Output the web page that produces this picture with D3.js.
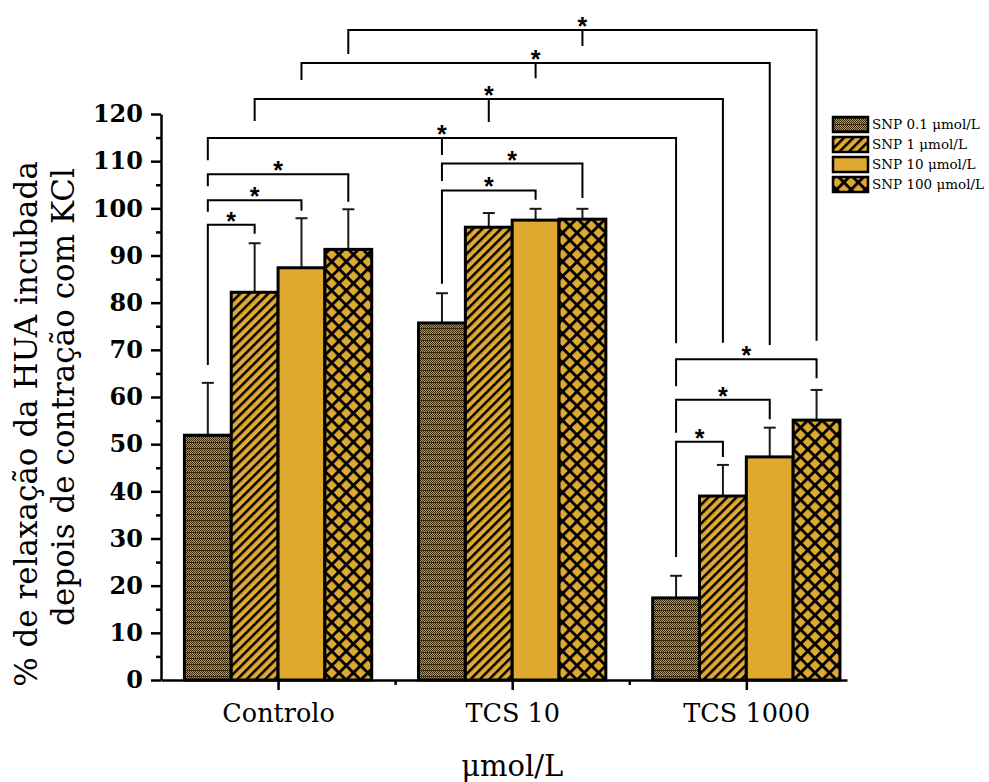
<!DOCTYPE html>
<html>
<head>
<meta charset="utf-8">
<script src="https://cdn.jsdelivr.net/npm/d3@7"></script>
<style>
  body { margin: 0; background: #fff; }
  svg { display: block; }
</style>
</head>
<body>
<svg id="chart" width="989" height="782"></svg>
<script>
// ---- data ----
const categories = ["Controlo", "TCS 10", "TCS 1000"];
const seriesNames = ["SNP 0.1 \u03bcmol/L", "SNP 1 \u03bcmol/L", "SNP 10 \u03bcmol/L", "SNP 100 \u03bcmol/L"];
// mean relaxation (%) per category, one entry per SNP concentration
const meanValues = [
  [51.9, 82.2, 87.4, 91.3],
  [75.7, 96.0, 97.5, 97.7],
  [17.4, 39.0, 47.3, 55.1]
];
// standard deviation (upper whisker only)
const sdValues = [
  [11.1, 10.4, 10.5, 8.5],
  [6.3, 3.0, 2.4, 2.2],
  [4.7, 6.6, 6.2, 6.4]
];
const yTicks = [0, 10, 20, 30, 40, 50, 60, 70, 80, 90, 100, 110, 120];
const yLabel = ["% de relaxação da HUA incubada", "depois de contração com KCl"];
const xLabel = "\u03bcmol/L";

// significance brackets: each point is [category, series, value where its leg stops]
const brackets = [
  { level: 96.5,  pts: [[0, 0, 66.8], [0, 1, 94.6]] },
  { level: 101.7, pts: [[0, 0, 99.3], [0, 2, 99.5]] },
  { level: 107.2, pts: [[0, 0, 104.7], [0, 3, 101.4]] },
  { level: 103.8, pts: [[1, 0, 84.0], [1, 2, 101.8]] },
  { level: 109.5, pts: [[1, 0, 105.8], [1, 3, 102.2]] },
  { level: 50.5,  pts: [[2, 0, 26.1], [2, 1, 47.3]] },
  { level: 59.4,  pts: [[2, 0, 52.4], [2, 2, 55.3]] },
  { level: 68.0,  pts: [[2, 0, 62.3], [2, 3, 64.0]] },
  { level: 114.9, pts: [[0, 0, 110.2], [1, 0, 111.3], [2, 0, 71.4]] },
  { level: 123.2, pts: [[0, 1, 118.5], [1, 1, 118.3], [2, 1, 71.5]] },
  { level: 130.8, pts: [[0, 2, 127.2], [1, 2, 127.6], [2, 2, 71.0]] },
  { level: 137.8, pts: [[0, 3, 132.7], [1, 3, 134.4], [2, 3, 71.9]] }
];

// ---- layout ----
const GOLD = "#DFA82F";
const INK = "#000";
const serif = "'DejaVu Serif', 'Liberation Serif', serif";

const svg = d3.select("#chart");
const x = d3.scaleLinear().domain([0.5, 3.43]).range([161, 847]);
const y = d3.scaleLinear().domain([0, 120]).range([680, 114]);
const barUnits = 0.2;
const barW = x(1 + barUnits) - x(1);
const barCenter = (g, s) => x(g + 1 + (s - 1.5) * barUnits);

// ---- fill patterns ----
const defs = svg.append("defs");

// fine brown/gold checker with faint horizontal banding
const pDots = defs.append("pattern").attr("id", "pat0")
  .attr("patternUnits", "userSpaceOnUse").attr("width", 4).attr("height", 6)
  .attr("shape-rendering", "crispEdges");
pDots.append("rect").attr("width", 4).attr("height", 6).attr("fill", "#C9952A");
const darkCells = [[0,0],[2,0],[1,1],[3,1],[0,2],[2,2],[1,3],[3,3],[0,4],[1,4],[2,4],[3,4],[1,5],[3,5]];
darkCells.forEach(([cx, cy]) => pDots.append("rect")
  .attr("x", cx).attr("y", cy).attr("width", 1).attr("height", 1).attr("fill", "#3a2806"));

// single diagonal hatch
const pHatch = defs.append("pattern").attr("id", "pat1")
  .attr("patternUnits", "userSpaceOnUse").attr("width", 6.6).attr("height", 10)
  .attr("patternTransform", "rotate(45)");
pHatch.append("rect").attr("width", 6.6).attr("height", 10).attr("fill", GOLD);
pHatch.append("rect").attr("width", 2.5).attr("height", 10).attr("fill", INK);

// solid
defs.append("pattern").attr("id", "pat2")
  .attr("patternUnits", "userSpaceOnUse").attr("width", 10).attr("height", 10)
  .append("rect").attr("width", 10).attr("height", 10).attr("fill", GOLD);

// cross hatch
const pCross = defs.append("pattern").attr("id", "pat3")
  .attr("patternUnits", "userSpaceOnUse").attr("width", 10.2).attr("height", 10.2)
  .attr("patternTransform", "rotate(45)");
pCross.append("rect").attr("width", 10.2).attr("height", 10.2).attr("fill", GOLD);
pCross.append("rect").attr("width", 2.9).attr("height", 10.2).attr("fill", INK);
pCross.append("rect").attr("width", 10.2).attr("height", 2.9).attr("fill", INK);

const fillFor = s => `url(#pat${s})`;

// ---- bars ----
const barData = [];
meanValues.forEach((row, g) => row.forEach((v, s) =>
  barData.push({ g, s, v, sd: sdValues[g][s] })));

// error whiskers (upper only)
const err = svg.append("g").attr("stroke", "#1a1a1a").attr("stroke-width", 2);
barData.forEach(d => {
  const cx = barCenter(d.g, d.s);
  err.append("line").attr("x1", cx).attr("x2", cx)
    .attr("y1", y(d.v)).attr("y2", y(d.v + d.sd));
  err.append("line").attr("x1", cx - 6).attr("x2", cx + 6)
    .attr("y1", y(d.v + d.sd)).attr("y2", y(d.v + d.sd));
});

svg.append("g").selectAll("rect").data(barData).join("rect")
  .attr("x", d => barCenter(d.g, d.s) - barW / 2)
  .attr("y", d => y(d.v))
  .attr("width", barW)
  .attr("height", d => y(0) - y(d.v))
  .attr("fill", d => fillFor(d.s))
  .attr("stroke", INK)
  .attr("stroke-width", 3);

// ---- axes ----
const yAxis = svg.append("g").attr("transform", `translate(${x(0.5)},0)`)
  .call(d3.axisLeft(y).tickValues(yTicks).tickSize(10).tickSizeOuter(0).tickPadding(8)
    .tickFormat(d3.format("d")));
yAxis.select(".domain").attr("stroke-width", 2.5);
yAxis.selectAll(".tick line").attr("stroke-width", 2.5);
yAxis.selectAll(".tick text")
  .attr("font-family", serif).attr("font-weight", "bold").attr("font-size", 24).attr("fill", INK);

const yMinor = svg.append("g").attr("transform", `translate(${x(0.5)},0)`)
  .call(d3.axisLeft(y).tickValues(d3.range(5, 120, 10)).tickSize(5).tickSizeOuter(0).tickFormat(""));
yMinor.select(".domain").remove();
yMinor.selectAll(".tick line").attr("stroke-width", 2.5);

const xAxis = svg.append("g").attr("transform", `translate(0,${y(0)})`)
  .call(d3.axisBottom(x).tickValues([1, 2, 3]).tickSize(10).tickSizeOuter(0).tickPadding(14)
    .tickFormat(d => categories[d - 1]));
xAxis.select(".domain").attr("stroke-width", 2.5);
xAxis.selectAll(".tick line").attr("stroke-width", 2.5);
xAxis.selectAll(".tick text")
  .attr("font-family", serif).attr("font-size", 25.5).attr("fill", INK);

const xMinor = svg.append("g").attr("transform", `translate(0,${y(0)})`)
  .call(d3.axisBottom(x).tickValues([1.5, 2.5]).tickSize(5).tickSizeOuter(0).tickFormat(""));
xMinor.select(".domain").remove();
xMinor.selectAll(".tick line").attr("stroke-width", 2.5);

// axis titles
svg.append("text").attr("x", x(2)).attr("y", 776)
  .attr("text-anchor", "middle").attr("font-family", serif).attr("font-size", 29)
  .text(xLabel);

const yMid = (y(0) + y(120)) / 2;
[[37, yMid + 27], [74, yMid]].forEach(([bx, cy], i) => {
  svg.append("text")
    .attr("transform", `translate(${bx},${cy}) rotate(-90)`)
    .attr("text-anchor", "middle").attr("font-family", serif).attr("font-size", 31)
    .text(yLabel[i]);
});

// ---- significance brackets ----
const br = svg.append("g");
brackets.forEach(b => {
  const ly = y(b.level);
  const xs = b.pts.map(p => barCenter(p[0], p[1]));
  const first = b.pts[0], last = b.pts[b.pts.length - 1];
  let dPath = `M${xs[0]},${y(first[2])}V${ly}H${xs[xs.length - 1]}V${y(last[2])}`;
  let starX = (xs[0] + xs[xs.length - 1]) / 2;
  if (b.pts.length === 3) {
    dPath += `M${xs[1]},${ly}V${y(b.pts[1][2])}`;
    starX = xs[1];
  }
  br.append("path").attr("d", dPath).attr("fill", "none")
    .attr("stroke", INK).attr("stroke-width", 2).attr("stroke-linejoin", "miter");
  br.append("text").attr("x", starX).attr("y", ly + 5)
    .attr("text-anchor", "middle")
    .attr("font-family", "'Liberation Sans', Arial, sans-serif")
    .attr("font-weight", "bold")
    .attr("font-size", 25).text("*");
});

// ---- legend ----
const lg = svg.append("g");
seriesNames.forEach((name, s) => {
  const top = 117 + s * 20;
  lg.append("rect").attr("x", 833).attr("y", top).attr("width", 35).attr("height", 15)
    .attr("fill", fillFor(s)).attr("stroke", INK).attr("stroke-width", 2.5);
  lg.append("text").attr("x", 872).attr("y", top + 12)
    .attr("font-family", serif).attr("font-size", 13.5).text(name);
});
</script>
</body>
</html>
